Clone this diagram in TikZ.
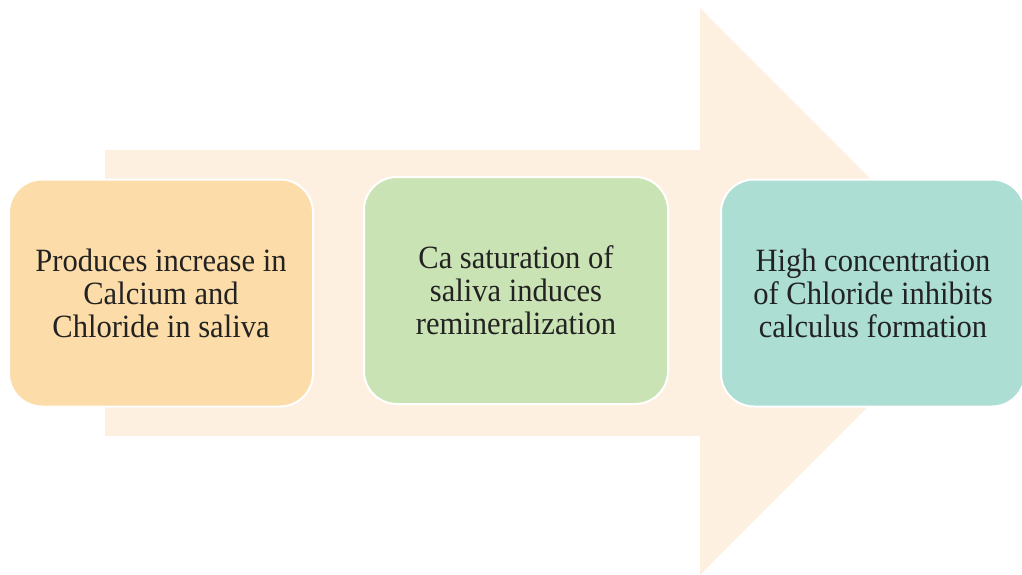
\documentclass[tikz,border=0pt]{standalone}
\usepackage{fontspec}
\setmainfont{Liberation Serif}[FakeStretch=0.94]
\definecolor{arrowfill}{HTML}{FDF0E1}
\definecolor{boxorange}{HTML}{FCDCA8}
\definecolor{boxgreen}{HTML}{C9E3B4}
\definecolor{boxteal}{HTML}{ACDED3}
\definecolor{textdark}{HTML}{222222}

\begin{document}
\begin{tikzpicture}[x=1pt,y=-1pt,node distance=355pt,
    step box/.style={rectangle,rounded corners=33pt,draw=white,line width=2pt,minimum width=304pt,minimum height=227pt,align=center,text=textdark,font=\fontsize{32.5}{33}\selectfont}]
    \useasboundingbox (0,0) rectangle (1022,575);
    \fill[arrowfill] (105,150) -- (700,150) -- (700,8) -- (983,291.5) -- (700,575) -- (700,436) -- (105,436) -- cycle;

    \node[step box, fill=boxorange] (produce) at (161,293) {Produces increase in\\Calcium and\\Chloride in saliva};
    \node[step box, fill=boxgreen, yshift=2.5pt] (saturate) [right of = produce] {Ca saturation of\\saliva induces\\remineralization};
    \node[step box, fill=boxteal, xshift=2pt] (inhibit) [right of = saturate, yshift=-2.5pt] {High concentration\\of Chloride inhibits\\calculus formation};
\end{tikzpicture}
\end{document}
